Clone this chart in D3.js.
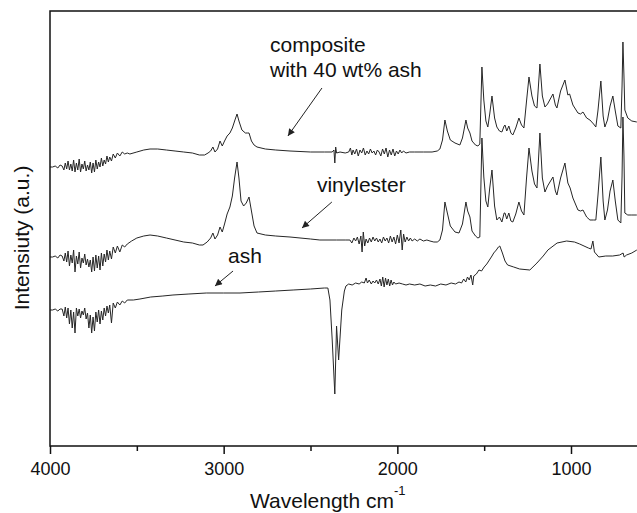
<!DOCTYPE html>
<html>
<head>
<meta charset="utf-8">
<script src="https://cdn.jsdelivr.net/npm/d3@7"></script>
<style>
  body { margin: 0; background: #fff; }
  svg { display: block; font-family: Arial, "Liberation Sans", sans-serif; }
</style>
</head>
<body>
<script>
// Spectra: [wavenumber cm-1, intensity a.u.]
const composite = [
  [4000,279],[3985,279],[3970,280],[3955,278],[3942,281],
  [3930,280],[3920,276],[3912,283],[3904,277],[3896,285],[3888,276],[3880,282],[3872,275],
  [3864,286],[3856,274],[3848,283],[3840,276],[3832,287],[3824,274],[3816,282],[3808,277],
  [3800,285],[3792,275],[3784,281],[3776,276],[3768,284],[3760,273],[3752,283],[3744,274],
  [3736,286],[3728,277],[3720,284],[3712,279],[3704,288],[3696,280],[3688,286],[3680,282],
  [3672,290],[3664,284],[3656,289],[3646,285],[3636,292],[3624,288],[3612,293],[3598,290],
  [3584,294],[3570,292],[3555,293],
  [3540,292],[3500,294],[3460,296],[3424,297],[3380,297],[3330,296],[3280,295],[3230,294],
  [3180,293],[3140,291],[3110,291],[3090,293],[3075,295],[3062,299],[3050,294],[3035,297],
  [3021,305],[3008,300],[2995,305],[2980,310],[2964,313],[2950,318],[2935,326],[2923,332],
  [2912,325],[2895,316],[2875,313],[2862,313],[2854,313],[2840,305],[2825,301],[2808,299],
  [2760,297],[2700,296],[2618,295],[2500,294],[2420,294],
  [2375,294],[2365,296],[2360,283],[2355,299],[2350,293],[2330,294],[2300,293],
  [2280,294],[2270,298],[2262,291],[2255,296],[2245,292],[2235,297],[2225,290],[2215,296],
  [2205,293],[2195,298],[2185,291],[2175,295],[2165,292],[2155,297],[2145,293],[2135,295],
  [2125,291],[2115,296],[2105,294],[2095,290],[2085,297],[2075,292],[2065,298],[2055,289],
  [2045,296],[2035,291],[2025,297],[2015,290],[2005,295],[1995,292],[1985,296],[1975,293],
  [1965,295],[1950,293],[1930,294],[1900,294],[1850,294],[1800,294],[1770,295],
  [1755,297],[1740,306],[1726,326],[1712,315],[1695,306],[1668,303],[1640,301],[1625,308],
  [1605,326],[1595,318],[1582,313],[1570,305],[1550,301],[1536,300],[1525,302],[1513,379],
  [1502,346],[1490,325],[1479,319],[1468,332],[1455,350],[1440,328],[1427,319],[1412,315],
  [1398,314],[1385,320],[1380,321],[1370,315],[1358,320],[1346,313],[1335,311],[1318,318],
  [1300,328],[1285,321],[1271,318],[1256,345],[1242,369],[1225,350],[1210,340],[1196,338],
  [1179,382],[1165,350],[1150,339],[1135,342],[1104,352],[1090,341],[1081,338],[1060,355],
  [1035,366],[1018,351],[1008,352],[989,341],[960,333],[945,332],[931,334],[910,328],
  [891,326],[870,322],[857,319],[845,335],[828,365],[815,330],[805,319],[790,326],
  [775,340],[759,350],[745,335],[730,320],[713,318],[706,360],[701,404],[695,370],
  [690,336],[673,328],[650,325],[621,324]
];

const vinylester = [
  [4000,189],[3985,189],[3970,190],[3955,188],[3942,191],
  [3930,190],[3920,185],[3912,193],[3904,184],[3896,195],[3888,180],[3880,191],[3872,183],
  [3864,196],[3856,174],[3848,190],[3840,182],[3832,194],[3824,178],[3816,188],[3808,183],
  [3800,192],[3792,181],[3784,187],[3776,179],[3768,186],[3760,174],[3752,189],[3744,175],
  [3736,191],[3728,178],[3720,190],[3712,176],[3704,193],[3696,180],[3688,192],[3680,184],
  [3672,196],[3664,186],[3656,195],[3646,187],[3636,199],[3624,193],[3612,200],[3598,194],
  [3584,201],[3570,199],[3555,202],
  [3530,205],[3500,208],[3460,210],[3424,211],[3380,210],[3330,208],[3280,206],[3230,204],
  [3180,203],[3140,201],[3119,201],[3095,204],[3075,208],[3062,213],[3050,207],[3035,211],
  [3021,219],[3008,214],[2995,222],[2980,232],[2964,239],[2950,250],[2937,268],[2923,284],
  [2912,268],[2900,245],[2885,240],[2870,243],[2854,249],[2840,235],[2825,220],[2808,213],
  [2760,211],[2700,210],[2618,209],[2500,207],[2446,206],[2350,206],[2300,206],
  [2273,206],[2262,203],[2250,208],[2240,205],[2230,209],[2220,202],[2210,210],[2203,194],
  [2196,214],[2188,200],[2180,207],[2170,203],[2160,208],[2150,204],[2140,209],[2130,205],
  [2120,208],[2110,204],[2100,207],[2090,203],[2080,209],[2070,205],[2060,208],[2050,203],
  [2040,210],[2030,204],[2020,209],[2010,202],[2000,211],[1990,203],[1980,216],[1972,196],
  [1964,212],[1955,204],[1945,209],[1935,205],[1925,208],[1915,205],[1900,207],[1885,205],
  [1870,207],[1850,205],[1830,206],[1812,205],[1790,204],[1770,204],
  [1755,206],[1740,216],[1726,244],[1712,233],[1695,220],[1668,214],[1645,213],[1625,222],
  [1605,244],[1595,235],[1582,229],[1570,215],[1550,210],[1536,208],[1525,209],[1513,308],
  [1502,269],[1490,245],[1479,239],[1468,258],[1455,276],[1440,240],[1427,226],[1412,229],
  [1398,224],[1385,233],[1380,233],[1370,227],[1358,233],[1346,225],[1335,224],[1318,232],
  [1300,244],[1285,235],[1271,231],[1256,268],[1242,298],[1225,275],[1210,262],[1196,258],
  [1179,313],[1165,268],[1150,254],[1135,260],[1104,269],[1090,255],[1081,251],[1060,268],
  [1035,283],[1018,263],[1005,258],[989,248],[960,236],[945,235],[931,236],[910,229],
  [891,226],[870,226],[857,226],[845,250],[828,289],[815,245],[805,226],[790,236],
  [775,255],[759,266],[745,245],[730,226],[713,223],[706,270],[701,329],[695,290],
  [690,233],[673,231],[650,231],[621,231]
];

const ash = [
  [4000,136],[3985,136],[3970,137],[3955,135],[3942,137],
  [3930,137],[3920,130],[3912,139],[3904,128],[3896,138],[3888,122],[3880,136],[3872,118],
  [3864,134],[3856,113],[3848,138],[3840,130],[3832,137],[3824,128],[3816,135],[3808,131],
  [3800,138],[3792,127],[3784,133],[3776,118],[3768,131],[3760,113],[3752,129],[3744,115],
  [3736,134],[3728,124],[3720,136],[3712,122],[3704,135],[3696,126],[3688,138],[3680,130],
  [3672,140],[3664,133],[3656,141],[3646,123],[3636,143],[3624,138],[3612,144],[3598,141],
  [3584,145],[3570,143],[3555,146],
  [3520,146],[3482,147],[3420,149],[3350,150],[3292,151],[3200,152],[3100,153],[3000,153],
  [2906,153],[2800,154],[2700,155],[2600,156],[2500,157],[2420,158],[2400,158],
  [2388,146],[2375,106],[2360,52],[2350,120],[2338,86],[2320,136],[2305,155],[2296,160],
  [2280,162],[2260,161],[2240,163],[2220,162],[2205,164],[2190,163],[2180,168],[2172,163],
  [2162,166],[2150,162],[2140,165],[2130,163],[2120,166],[2110,162],[2100,167],[2092,160],
  [2084,169],[2076,159],[2068,168],[2060,161],[2052,167],[2044,160],[2036,166],[2028,161],
  [2020,164],[2010,162],[1990,163],[1970,162],[1950,161],[1930,162],[1900,161],[1870,162],
  [1840,160],[1810,161],[1780,160],[1750,162],[1720,161],[1690,163],[1665,162],[1645,164],
  [1630,163],[1618,167],[1606,164],[1596,169],[1586,166],[1576,171],[1566,161],[1560,170],
  [1545,172],[1530,176],[1515,175],[1500,179],[1485,182],[1470,186],[1455,190],[1445,193],
  [1430,196],[1418,199],[1410,200],[1395,193],[1380,185],[1365,181],[1330,179],[1296,177],
  [1237,176],[1196,183],[1160,190],[1133,196],[1080,203],[1025,205],[980,204],[950,202],
  [900,198],[885,197],[874,205],[865,194],[840,189],[800,190],[760,190],[720,191],
  [700,193],[694,189],[680,191],[650,193],[621,196]
];

const series = [composite, vinylester, ash];

const xMajorTicks = [4000, 3000, 2000, 1000];
const xMinorTicks = [3500, 2500, 1500];

// annotation: label lines anchored at a data point, arrow from -> to
const notes = [
  { lines: ["composite", "with 40 wt% ash"], at: [2733, 394], from: [2434, 358], to: [2630, 310] },
  { lines: ["vinylester"], at: [2463, 254], from: [2377, 244], to: [2549, 218] },
  { lines: ["ash"], at: [2975, 183], from: [2946, 175], to: [3050, 160] }
];

const W = 637, H = 513;
const margin = { top: 11, left: 50, bottom: 67 };
const plotBottom = H - margin.bottom; // 446

const svg = d3.select("body").append("svg")
  .attr("width", W)
  .attr("height", H);

const x = d3.scaleLinear()
  .domain([4000, 600])
  .range([margin.left, margin.left + 3400 * (521 / 3000)]);

const y = d3.scaleLinear()
  .domain([0, 435])
  .range([plotBottom, margin.top]);

svg.append("defs").append("clipPath").attr("id", "plotclip")
  .append("rect")
  .attr("x", margin.left).attr("y", margin.top)
  .attr("width", W - margin.left).attr("height", plotBottom - margin.top);

svg.select("defs").append("marker")
  .attr("id", "arrow")
  .attr("viewBox", "0 0 10 10")
  .attr("refX", 10).attr("refY", 5)
  .attr("markerWidth", 10).attr("markerHeight", 7)
  .attr("markerUnits", "userSpaceOnUse")
  .attr("orient", "auto")
  .append("path")
  .attr("d", "M0,0 L10,5 L0,10 Z")
  .attr("fill", "#222");

const line = d3.line()
  .x(d => x(d[0]))
  .y(d => y(d[1]));

svg.append("g")
  .attr("clip-path", "url(#plotclip)")
  .selectAll("path")
  .data(series)
  .enter()
  .append("path")
  .attr("d", line)
  .attr("fill", "none")
  .attr("stroke", "#262626")
  .attr("stroke-width", 1)
  .attr("stroke-linejoin", "round");

// frame: left, top, bottom
svg.append("path")
  .attr("d", `M${W},${margin.top}H${margin.left}V${plotBottom}H${W}`)
  .attr("fill", "none")
  .attr("stroke", "#111")
  .attr("stroke-width", 1.5);

const xAxis = svg.append("g")
  .attr("transform", `translate(0,${plotBottom})`)
  .call(d3.axisBottom(x).tickValues(xMajorTicks).tickSize(8).tickPadding(8).tickFormat(d3.format("d")));
xAxis.select(".domain").remove();
xAxis.selectAll(".tick line").attr("stroke", "#111").attr("stroke-width", 1.5);
xAxis.selectAll(".tick text")
  .attr("fill", "#111")
  .style("font-size", "18px")
  .style("font-family", 'Arial, "Liberation Sans", sans-serif');

const xMinor = svg.append("g")
  .attr("transform", `translate(0,${plotBottom})`)
  .call(d3.axisBottom(x).tickValues(xMinorTicks).tickSize(5).tickFormat(""));
xMinor.select(".domain").remove();
xMinor.selectAll(".tick line").attr("stroke", "#111").attr("stroke-width", 1.5);

// axis titles
const xTitle = svg.append("text")
  .attr("x", 250)
  .attr("y", 508)
  .attr("fill", "#111")
  .style("font-size", "21px");
xTitle.append("tspan").text("Wavelength cm");
xTitle.append("tspan").attr("dy", -13).style("font-size", "13px").text("-1");

svg.append("text")
  .attr("transform", "translate(29,238) rotate(-90)")
  .attr("text-anchor", "middle")
  .attr("fill", "#111")
  .style("font-size", "21px")
  .text("Intensiuty (a.u.)");

// annotations
notes.forEach(n => {
  const t = svg.append("text")
    .attr("x", x(n.at[0]))
    .attr("y", y(n.at[1]))
    .attr("fill", "#111")
    .style("font-size", "21px");
  n.lines.forEach((s, i) => {
    t.append("tspan")
      .attr("x", x(n.at[0]))
      .attr("dy", i === 0 ? 0 : 25)
      .text(s);
  });
  svg.append("line")
    .attr("x1", x(n.from[0])).attr("y1", y(n.from[1]))
    .attr("x2", x(n.to[0])).attr("y2", y(n.to[1]))
    .attr("stroke", "#222")
    .attr("stroke-width", 1)
    .attr("marker-end", "url(#arrow)");
});
</script>
</body>
</html>
